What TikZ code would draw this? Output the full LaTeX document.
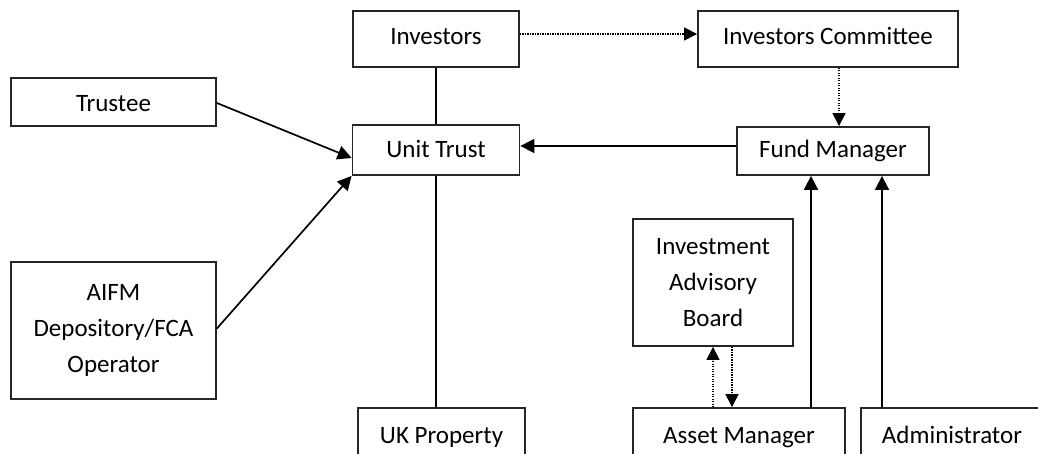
\documentclass[tikz,border=0pt]{standalone}
\usepackage{fontspec}
\setmainfont{Carlito}
\usetikzlibrary{arrows.meta}
\begin{document}
\begin{tikzpicture}[x=1pt,y=-1pt,
  box/.style={draw=black!85, line width=1.8pt, rectangle, inner sep=0pt, align=center,
    font=\fontsize{25}{36}\selectfont},
  sbox/.style={box, text depth=6pt, text height=#1},
  arr/.style={line width=1.7pt, -{Triangle[length=14pt,width=14pt]}},
  plain/.style={line width=1.7pt},
  dotarr/.style={line width=1.2pt, dash pattern=on 1.1pt off 1.4pt, -{Triangle[length=13pt,width=13pt]}}
]
\useasboundingbox (0,0) rectangle (1038,454);
\clip (0,0) rectangle (1038,454);
\node[sbox=18pt, minimum width=166pt, minimum height=56pt] (inv) at (436,39) {Investors};
\node[sbox=18pt, minimum width=260pt, minimum height=56pt] (ic) at (828,39) {Investors Committee};
\node[sbox=22pt, minimum width=167pt, minimum height=50pt] (ut) at (436,150) {Unit Trust};
\node[sbox=20pt, minimum width=192pt, minimum height=48pt] (fm) at (833,151) {Fund Manager};
\node[sbox=26pt, minimum width=205pt, minimum height=48pt] (tr) at (113.5,102) {Trustee};
\node[box, minimum width=205pt, minimum height=137pt] (aifm) at (113.5,330.5) {AIFM\\Depository/FCA\\Operator};
\node[box, minimum width=160pt, minimum height=127pt] (iab) at (713,282.5) {Investment\\Advisory\\Board};
\node[sbox=24pt, minimum width=167pt, minimum height=52pt] (ukp) at (441.5,434) {UK Property};
\node[sbox=24pt, minimum width=212pt, minimum height=52pt] (am) at (739,434) {Asset Manager};
\node[sbox=24pt, minimum width=182pt, minimum height=52pt] (adm) at (952,434) {Administrator};

\draw[plain] (inv.south) -- (ut.north);
\draw[dotarr] ([yshift=5pt]inv.east) -- ([yshift=5pt]ic.west);
\draw[dotarr] ([xshift=11pt]ic.south) -- ([xshift=11pt]ic.south |- fm.north);
\draw[arr] ([yshift=5pt]fm.west) -- ([yshift=5pt]fm.west -| ut.east);
\draw[arr] ([yshift=-1pt]tr.east) -- ([yshift=-8pt]ut.west);
\draw[arr] ([yshift=2pt]aifm.east) -- (ut.south west);
\draw[plain] (ut.south) -- (ut.south |- ukp.north);
\draw[arr] ([xshift=-22pt]fm.south |- am.north) -- ([xshift=-22pt]fm.south);
\draw[arr] ([xshift=49pt]fm.south |- adm.north) -- ([xshift=49pt]fm.south);
\draw[dotarr] (iab.south |- am.north) -- (iab.south);
\draw[dotarr] ([xshift=19pt]iab.south) -- ([xshift=19pt]iab.south |- am.north);
\end{tikzpicture}
\end{document}
